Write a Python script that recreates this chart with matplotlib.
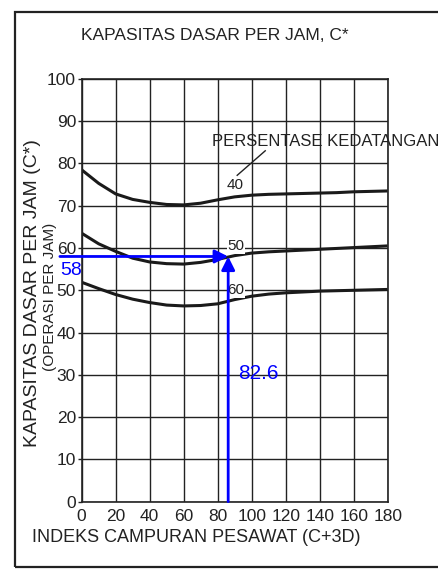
import matplotlib.pyplot as plt
from matplotlib.patches import Rectangle

# data
indeks = [0, 10, 20, 30, 40, 50, 60, 70, 80, 90, 100, 110, 120, 130, 140, 150, 160, 170, 180]
kedatangan_40 = [78.5, 75.3, 72.8, 71.5, 70.8, 70.3, 70.2, 70.6, 71.4, 72.1, 72.5, 72.7, 72.8, 72.9, 73.0, 73.1, 73.3, 73.4, 73.5]
kedatangan_50 = [63.5, 61.0, 59.2, 57.6, 56.7, 56.3, 56.2, 56.6, 57.3, 58.2, 58.8, 59.1, 59.3, 59.5, 59.7, 59.9, 60.1, 60.3, 60.5]
kedatangan_60 = [51.9, 50.4, 49.0, 47.9, 47.1, 46.5, 46.3, 46.4, 46.8, 47.8, 48.6, 49.1, 49.4, 49.6, 49.8, 49.9, 50.0, 50.1, 50.2]
x_ticks = [0, 20, 40, 60, 80, 100, 120, 140, 160, 180]
y_ticks = [0, 10, 20, 30, 40, 50, 60, 70, 80, 90, 100]
indeks_baca = 86.2
kapasitas_baca = 58

plt.rcParams['font.family'] = ['Liberation Sans', 'DejaVu Sans']
narrow = ['Liberation Sans Narrow', 'Liberation Sans', 'DejaVu Sans']

fig = plt.figure(figsize=(4.39, 5.72), dpi=100)
ax = fig.add_axes([0.186, 0.123, 0.697, 0.739])

for y in [kedatangan_40, kedatangan_50, kedatangan_60]:
    ax.plot(indeks, y, color="#1a1a1a", lw=2.2, solid_capstyle="butt")

ax.set_xlim(0, 180)
ax.set_ylim(0, 100)
ax.set_xticks(x_ticks)
ax.set_yticks(y_ticks)
ax.set_xticklabels([str(v) for v in x_ticks], family=narrow, fontsize=12.5)
ax.set_yticklabels([str(v) for v in y_ticks], family=narrow, fontsize=12.5)
ax.tick_params(axis="x", length=0, pad=5, colors="#222222")
ax.tick_params(axis="y", length=3, width=1, pad=1, colors="#222222")
ax.grid(True, color="#222222", lw=1.0)
for s in ax.spines.values():
    s.set_color("#222222")
    s.set_linewidth(1.2)

# curve labels
ax.text(90.5, 74.8, "40", family=narrow, fontsize=11, ha="center", va="center", color="#222222")
ax.text(90.8, 60.4, "50", family=narrow, fontsize=11, ha="center", va="center", color="#222222",
        bbox=dict(fc="white", ec="none", pad=0.5))
ax.text(90.8, 50.0, "60", family=narrow, fontsize=11, ha="center", va="center", color="#222222",
        bbox=dict(fc="white", ec="none", pad=0.5))
ax.plot([91.5, 108], [77.2, 83], color="#222222", lw=1)
ax.text(76.5, 85.2, "PERSENTASE KEDATANGAN", fontsize=12, ha="left", va="center",
        color="#222222", clip_on=False)

# reading lines
ax.annotate("", xy=(indeks_baca, kapasitas_baca), xytext=(-12.8, kapasitas_baca),
            arrowprops=dict(arrowstyle="-|>", color="blue", lw=2, mutation_scale=20,
                            shrinkA=0, shrinkB=0), annotation_clip=False)
ax.annotate("", xy=(indeks_baca, kapasitas_baca), xytext=(indeks_baca, 0),
            arrowprops=dict(arrowstyle="-|>", color="blue", lw=2, mutation_scale=20,
                            shrinkA=0, shrinkB=0), annotation_clip=False)
ax.text(-12.5, 56.6, str(kapasitas_baca), family=narrow, fontsize=14, color="blue",
        ha="left", va="top", clip_on=False)
ax.text(92, 30.3, "82.6", family=narrow, fontsize=15, color="blue", ha="left", va="center")

# titles
fig.text(0.49, 0.938, "KAPASITAS DASAR PER JAM, C*", fontsize=12.5, ha="center", va="center",
         color="#222222")
fig.text(0.075, 0.488, "KAPASITAS DASAR PER JAM (C*)", fontsize=14, rotation=90,
         ha="center", va="center", color="#222222")
fig.text(0.114, 0.481, "(OPERASI PER JAM)", fontsize=11, rotation=90,
         ha="center", va="center", color="#222222")
fig.text(0.073, 0.061, "INDEKS CAMPURAN PESAWAT (C+3D)", fontsize=13, ha="left",
         va="center", color="#222222")

# outer frame
fig.add_artist(Rectangle((0.035, 0.009), 1.2, 0.97, transform=fig.transFigure,
                         fill=False, ec="#222222", lw=1.6, clip_on=False))

fig.savefig("out.png", dpi=100, facecolor="white")
